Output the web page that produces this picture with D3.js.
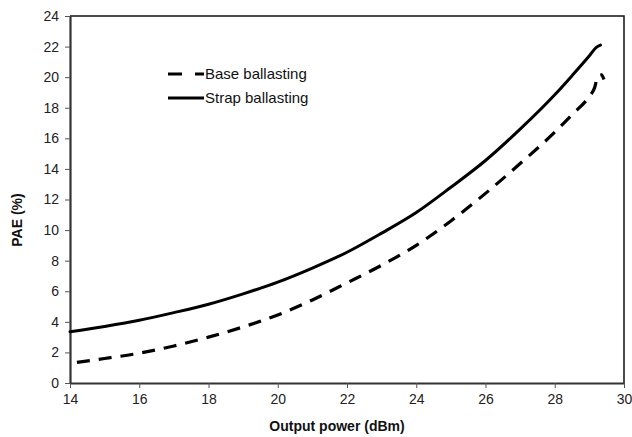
<!DOCTYPE html>
<html>
<head>
<meta charset="utf-8">
<script src="https://cdn.jsdelivr.net/npm/d3@7"></script>
<style>
  body { margin: 0; background: #fff; }
  svg { display: block; font-family: "Liberation Sans", Arial, sans-serif; }
</style>
</head>
<body>
<div id="vis"></div>
<script>
// data
var xTicks = [14, 16, 18, 20, 22, 24, 26, 28, 30];
var yTicks = [0, 2, 4, 6, 8, 10, 12, 14, 16, 18, 20, 22, 24];

var strapX = [14, 15, 16, 17, 18, 19, 20, 21, 22, 23, 24, 25, 26, 27, 28, 28.5, 29, 29.2, 29.32];
var strapY = [3.35, 3.7, 4.1, 4.6, 5.15, 5.83, 6.6, 7.52, 8.55, 9.8, 11.15, 12.8, 14.55, 16.6, 18.85, 20.1, 21.4, 21.95, 22.1];

var baseX = [14.2, 15, 16, 17, 18, 19, 20, 21, 22, 23, 24, 25, 26, 27, 28, 28.5, 29, 29.15, 29.25, 29.35, 29.42];
var baseY = [1.35, 1.6, 1.95, 2.42, 3.0, 3.67, 4.45, 5.43, 6.55, 7.7, 9.0, 10.6, 12.4, 14.35, 16.4, 17.55, 18.75, 19.3, 20.1, 20.15, 19.85];

var legendLabels = ['Base ballasting', 'Strap ballasting'];

function zipSeries(xs, ys)
{
    return xs.map(function(x, i) { return { x: x, y: ys[i] }; });
}

var width = 632, height = 437;
var margin = { left: 70, top: 16, right: 8, bottom: 54 };
var plotW = width - margin.left - margin.right;
var plotH = height - margin.top - margin.bottom;

var svg = d3.select('#vis')
    .append('svg')
        .attr('width', width)
        .attr('height', height);

var g = svg.append('g')
    .attr('transform', 'translate(' + margin.left + ',' + margin.top + ')');

var x = d3.scaleLinear().domain([14, 30]).range([0, plotW]);
var y = d3.scaleLinear().domain([0, 24]).range([plotH, 0]);

// frame (top and right)
g.append('path')
    .attr('d', 'M0,0H' + plotW + 'V' + plotH)
    .attr('fill', 'none')
    .attr('stroke', '#111')
    .attr('stroke-width', 1.5);

// axes
var xAxis = g.append('g')
    .attr('transform', 'translate(0,' + plotH + ')')
    .call(d3.axisBottom(x).tickValues(xTicks).tickSize(5).tickPadding(6).tickSizeOuter(0));

var yAxis = g.append('g')
    .call(d3.axisLeft(y).tickValues(yTicks).tickSize(5).tickPadding(6).tickSizeOuter(0));

[xAxis, yAxis].forEach(function(ax)
{
    ax.select('.domain').attr('stroke', '#333').attr('stroke-width', 2.2);
    ax.selectAll('.tick line').attr('stroke', '#555').attr('stroke-width', 1);
    ax.selectAll('.tick text')
        .attr('font-family', '"Liberation Sans", Arial, sans-serif')
        .attr('font-size', 14)
        .attr('fill', '#222');
});

// axis titles
svg.append('text')
    .attr('x', 337)
    .attr('y', 431)
    .attr('text-anchor', 'middle')
    .attr('font-size', 14)
    .attr('font-weight', 'bold')
    .attr('fill', '#111')
    .text('Output power (dBm)');

svg.append('text')
    .attr('transform', 'translate(22,220) rotate(-90)')
    .attr('text-anchor', 'middle')
    .attr('font-size', 14)
    .attr('font-weight', 'bold')
    .attr('fill', '#111')
    .text('PAE (%)');

// curves
var line = d3.line()
    .x(function(d) { return x(d.x); })
    .y(function(d) { return y(d.y); })
    .curve(d3.curveMonotoneX);

g.append('path')
    .datum(zipSeries(strapX, strapY))
    .attr('d', line)
    .attr('fill', 'none')
    .attr('stroke', '#000')
    .attr('stroke-width', 3)
    .attr('stroke-linecap', 'round');

g.append('path')
    .datum(zipSeries(baseX, baseY))
    .attr('d', line)
    .attr('fill', 'none')
    .attr('stroke', '#000')
    .attr('stroke-width', 3.2)
    .attr('stroke-dasharray', '13,9');

// legend
var legend = svg.append('g')
    .attr('transform', 'translate(168,74)');

legendLabels.forEach(function(label, i)
{
    var row = legend.append('g').attr('transform', 'translate(0,' + (i * 24) + ')');
    row.append('line')
        .attr('x1', 0).attr('x2', 36)
        .attr('y1', 0).attr('y2', 0)
        .attr('stroke', '#000')
        .attr('stroke-width', 3.2)
        .attr('stroke-dasharray', i === 0 ? '14,13' : null);
    row.append('text')
        .attr('x', 37)
        .attr('y', 5)
        .attr('font-size', 15)
        .attr('fill', '#111')
        .text(label);
});
</script>
</body>
</html>
